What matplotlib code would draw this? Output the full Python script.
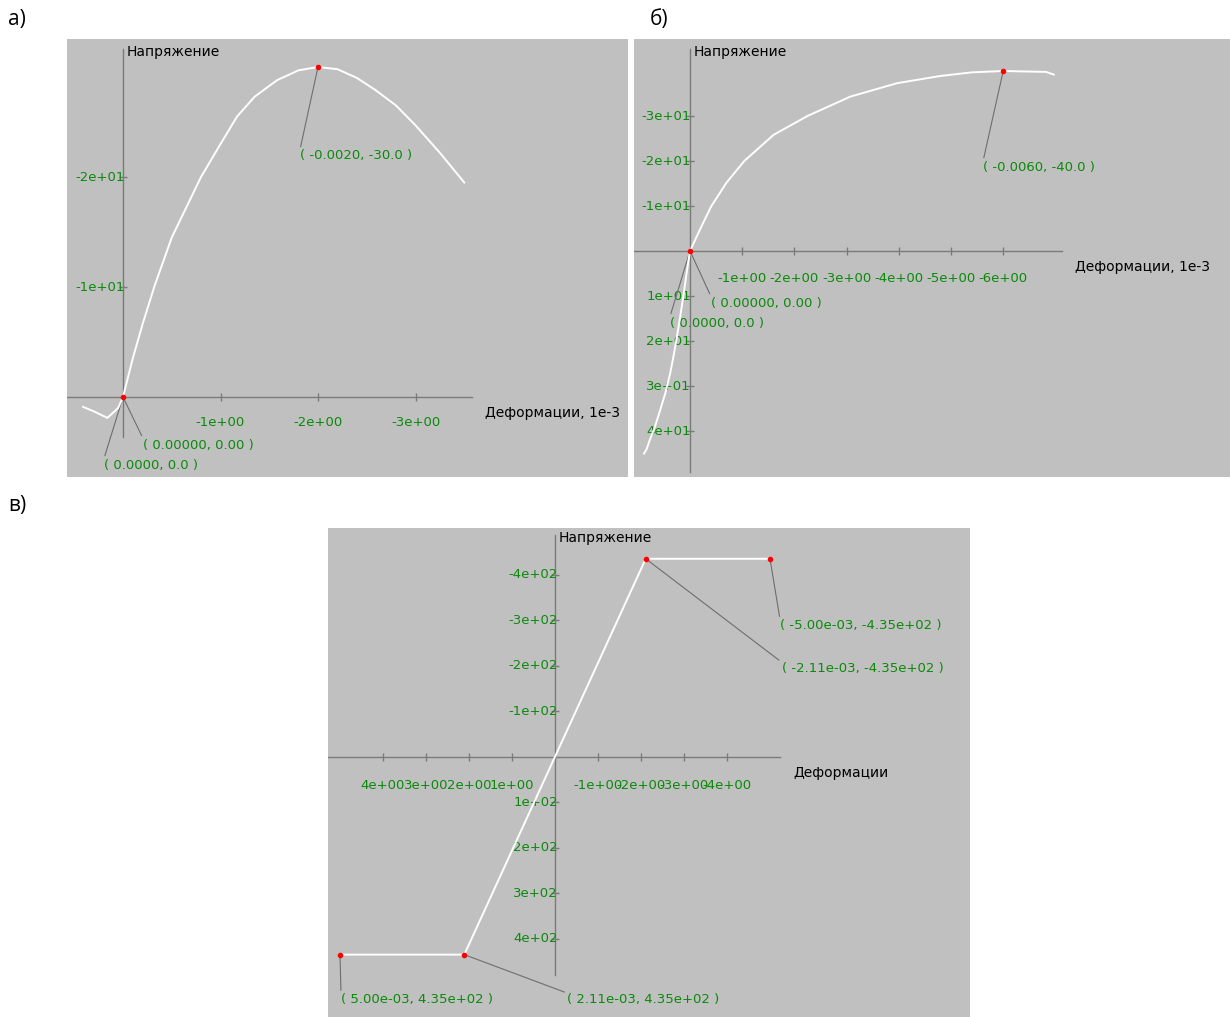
import matplotlib
matplotlib.use("Agg")
import matplotlib.pyplot as plt

W, H = 1230, 1017
BG     = "#c0c0c0"
AXCOL  = "#7a7a7a"
LEADER = "#6e6e6e"
GREEN  = "#0a8a0a"
PX     = 0.72  # points per pixel at dpi 100

# Panel а) - parabolic diagram, strain in 1e-3
A_EPS = [0.41, 0.30, 0.16, 0.05, 0.0, -0.1, -0.2, -0.32, -0.5, -0.8, -1.0, -1.17,
         -1.35, -1.58, -1.8, -2.0, -2.2, -2.4, -2.59, -2.8, -3.0, -3.25, -3.5]
A_SIG = [0.9, 1.3, 1.9, 1.0, 0.0, -3.5, -6.6, -10.0, -14.5, -20.0, -23.0, -25.5,
         -27.3, -28.8, -29.7, -30.0, -29.8, -29.0, -27.9, -26.5, -24.7, -22.2, -19.5]
A_XT  = [-1, -2, -3]
A_XTL = ["-1e+00", "-2e+00", "-3e+00"]
A_YT  = [-10, -20]
A_YTL = ["-1e+01", "-2e+01"]
A_PTS = [(0.0, 0.0), (-2.0, -30.0)]
A_ANN = [((-2.0, -30.0), "( -0.0020, -30.0 )", (-18, 89)),
         ((0.0, 0.0), "( 0.00000, 0.00 )", (20, 48)),
         ((0.0, 0.0), "( 0.0000, 0.0 )", (-19, 68))]

# Panel б)
B_EPS = [0.88, 0.83, 0.77, 0.67, 0.57, 0.47, 0.38, 0.31, 0.24, 0.18, 0.12, 0.06, 0.0,
         -0.2, -0.41, -0.7, -1.04, -1.6, -2.25, -3.07, -3.97, -4.8, -5.4, -6.0,
         -6.82, -6.97]
B_SIG = [45.0, 44.0, 42.0, 39.0, 35.3, 31.5, 27.2, 23.0, 18.3, 14.0, 9.4, 4.5, 0.0,
         -5.0, -10.0, -15.2, -20.0, -25.8, -30.0, -34.3, -37.3, -38.9, -39.7, -40.0,
         -39.8, -39.2]
B_XT  = [-1, -2, -3, -4, -5, -6]
B_XTL = ["-1e+00", "-2e+00", "-3e+00", "-4e+00", "-5e+00", "-6e+00"]
B_YT  = [-30, -20, -10, 10, 20, 30, 40]
B_YTL = ["-3e+01", "-2e+01", "-1e+01", "1e+01", "2e+01", "3e+01", "4e+01"]
B_PTS = [(0.0, 0.0), (-6.0, -40.0)]
B_ANN = [((-6.0, -40.0), "( -0.0060, -40.0 )", (-20, 96)),
         ((0.0, 0.0), "( 0.00000, 0.00 )", (21, 52)),
         ((0.0, 0.0), "( 0.0000, 0.0 )", (-20, 72))]

# Panel в) - bilinear diagram
C_EPS = [5.0, 2.11, -2.11, -5.0]
C_SIG = [435.0, 435.0, -435.0, -435.0]
C_XT  = [4, 3, 2, 1, -1, -2, -3, -4]
C_XTL = ["4e+00", "3e+00", "2e+00", "1e+00", "-1e+00", "-2e+00", "-3e+00", "-4e+00"]
C_YT  = [-400, -300, -200, -100, 100, 200, 300, 400]
C_YTL = ["-4e+02", "-3e+02", "-2e+02", "-1e+02", "1e+02", "2e+02", "3e+02", "4e+02"]
C_ANN = [((-5.0, -435.0), "( -5.00e-03, -4.35e+02 )", (10, 67)),
         ((-2.11, -435.0), "( -2.11e-03, -4.35e+02 )", (136, 110)),
         ((5.0, 435.0), "( 5.00e-03, 4.35e+02 )", (1, 45)),
         ((2.11, 435.0), "( 2.11e-03, 4.35e+02 )", (103, 45))]

fig = plt.figure(figsize=(W / 100, H / 100), dpi=100)
fig.patch.set_facecolor("white")


def panel(box, origin, ppx, ppy, xline, yline):
    l, t, r, b = box
    ax = fig.add_axes([l / W, 1 - b / H, (r - l) / W, (b - t) / H])
    ax.set_facecolor(BG)
    for s in ax.spines.values():
        s.set_visible(False)
    ax.set_xticks([])
    ax.set_yticks([])
    ax.set_xlim((origin[0] - l) / ppx, -(r - origin[0]) / ppx)
    ax.set_ylim((b - origin[1]) / ppy, -(origin[1] - t) / ppy)
    ax.plot(xline, [0, 0], color=AXCOL, lw=1.0, zorder=1)
    ax.plot([0, 0], yline, color=AXCOL, lw=1.0, zorder=1)
    return ax


def ticks(ax, xt, xtl, yt, ytl, xlab_dy, ylab_dx):
    ax.plot(xt, [0] * len(xt), ls="none", marker="|", ms=6, mew=1.0, color=AXCOL, zorder=1)
    ax.plot([0] * len(yt), yt, ls="none", marker="_", ms=6, mew=1.0, color=AXCOL, zorder=1)
    for x, s in zip(xt, xtl):
        ax.annotate(s, (x, 0), xytext=(0, -xlab_dy * PX), textcoords="offset points",
                    ha="center", va="center", color=GREEN, fontsize=9.5)
    for y, s in zip(yt, ytl):
        ax.annotate(s, (0, y), xytext=(ylab_dx * PX, 0), textcoords="offset points",
                    ha="right", va="center", color=GREEN, fontsize=9.5)


def labels(ax, ytop, xend, xname):
    ax.annotate("Напряжение", (0, ytop), xytext=(4 * PX, -3 * PX), textcoords="offset points",
                ha="left", va="center", color="black", fontsize=10)
    ax.annotate(xname, (xend, 0), xytext=(13 * PX, -16 * PX), textcoords="offset points",
                ha="left", va="center", color="black", fontsize=10)


def notes(ax, ann):
    for (x, y), s, (dx, dy) in ann:
        ax.annotate(s, (x, y), xytext=(dx * PX, -dy * PX), textcoords="offset points",
                    ha="left", va="center", color=GREEN, fontsize=9.5,
                    arrowprops=dict(arrowstyle="-", color=LEADER, lw=0.8,
                                    shrinkA=0, shrinkB=0, relpos=(0, 1)))


#  а) 
ax = panel((67, 39, 628, 477), (123, 397), 97.5, 11.0, [0.574, -3.58], [-31.6, 3.6])
ticks(ax, A_XT, A_XTL, A_YT, A_YTL, 25, 2)
labels(ax, -31.6, -3.58, "Деформации, 1e-3")
notes(ax, A_ANN)
ax.plot(A_EPS, A_SIG, color="white", lw=1.4, zorder=3)
ax.plot(*zip(*A_PTS), ls="none", marker="o", ms=3, color="red", zorder=4)

#  б) 
ax = panel((634, 39, 1230, 477), (690, 251), 52.2, 4.5, [1.073, -7.13], [-44.9, 49.0])
ticks(ax, B_XT, B_XTL, B_YT, B_YTL, 27, 1)
labels(ax, -44.9, -7.13, "Деформации, 1e-3")
notes(ax, B_ANN)
ax.plot(B_EPS, B_SIG, color="white", lw=1.4, zorder=3)
ax.plot(*zip(*B_PTS), ls="none", marker="o", ms=3, color="red", zorder=4)

#  в) 
ax = panel((328, 528, 970, 1017), (555, 756.7), 43.0, 0.455, [5.28, -5.24], [-487, 480])
ticks(ax, C_XT, C_XTL, C_YT, C_YTL, 29, 3)
labels(ax, -487, -5.24, "Деформации")
notes(ax, C_ANN)
ax.plot(C_EPS, C_SIG, color="white", lw=1.4, zorder=3)
ax.plot(C_EPS, C_SIG, ls="none", marker="o", ms=3, color="red", zorder=4)

#  panel letters 
for s, x, y in [("а)", 8, 20), ("б)", 650, 20), ("в)", 8, 506)]:
    fig.text(x / W, 1 - y / H, s, ha="left", va="center", fontsize=15,
             family=["Open Sans", "DejaVu Sans"], color="black")

fig.savefig("out.png", dpi=100, facecolor="white")
